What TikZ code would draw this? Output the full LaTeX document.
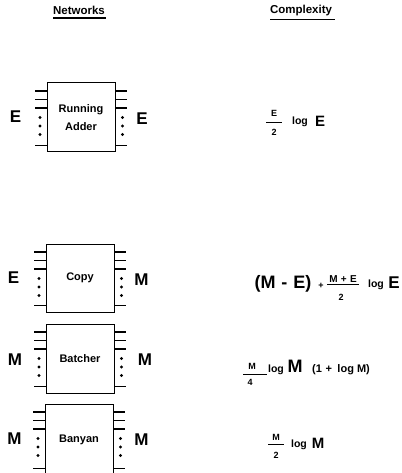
\documentclass[tikz,border=0pt]{standalone}
\usepackage{fontspec}
\setmainfont{Liberation Sans}
\begin{document}
\begin{tikzpicture}[x=1pt,y=-1pt,
  netbox/.style={draw, line width=1pt, minimum width=68pt, minimum height=69pt, inner sep=0pt, align=center, font=\bfseries\fontsize{11}{18}\selectfont},
  hdr/.style={inner sep=0pt, font=\bfseries\fontsize{11.5}{13}\selectfont},
  io/.style={inner sep=0pt, font=\bfseries\fontsize{17}{17}\selectfont},
  sm/.style={inner sep=0pt, anchor=base, font=\bfseries\fontsize{9}{9}\selectfont},
  md/.style={inner sep=0pt, anchor=base, font=\bfseries\fontsize{10.5}{11}\selectfont},
  lg/.style={inner sep=0pt, anchor=base, font=\bfseries\fontsize{15}{15}\selectfont},
  xl/.style={inner sep=0pt, anchor=base, font=\bfseries\fontsize{18}{18}\selectfont},
  stub/.style={line width=1.1pt},
  fbar/.style={line width=0.9pt},
  uline/.style={line width=1.3pt}]
\useasboundingbox (0,0) rectangle (401,473);

\newcommand\stubs[1]{%
  \foreach \dd in {8.5,17,25.5}{%
    \draw[stub] (#1.north west) ++(0,\dd) -- ++(-12,0);
    \draw[stub] (#1.north east) ++(0,\dd) -- ++(11,0);}
  \draw[stub] (#1.south west) ++(0,-7) -- ++(-12,0);
  \draw[stub] (#1.south east) ++(0,-7) -- ++(11,0);
  \foreach \dd in {35,43.5,52}{%
    \fill (#1.north west) ++(-6.5,\dd) circle (1.7pt);
    \fill (#1.north east) ++(7,\dd) circle (1.7pt);}}

% headers
\node[hdr] (hnet) at (79,10) {Networks};
\node[hdr] (hcx) at (301,11) {Complexity};
\draw[uline] (53,18) -- (106,18);
\draw[uline] (270,19.5) -- (335,19.5);

% boxes
\node[netbox] (ra) at (81,117.5) {Running\\Adder};
\node[netbox, minimum height=68pt] (cp) at (80,278) {Copy};
\node[netbox] (bt) at (80,358.5) {Batcher};
\node[netbox, minimum height=71pt] (bn) at (79,439.5) {Banyan};
\stubs{ra}\stubs{cp}\stubs{bt}\stubs{bn}

% in/out labels
\node[io] (raI) at (15.5,117) {E};
\node[io] (raO) at (142,119) {E};
\node[io] (cpI) at (13.5,278) {E};
\node[io] (cpO) at (141.5,280) {M};
\node[io] (btI) at (15,360) {M};
\node[io] (btO) at (145,360) {M};
\node[io] (bnI) at (14.5,439) {M};
\node[io] (bnO) at (141.5,440) {M};

% formula 1
\node[sm] (f1n) at (274,117) {E};
\draw[fbar] (266,122.5) -- (282,122.5);
\node[sm] (f1d) at (274,136) {2};
\node[md] (f1l) at (300,125) {log};
\node[lg] (f1e) at (320,126.5) {E};

% formula 2
\node[xl] (f2a) at (283,288) {(M\,\,-\,\,E)};
\node[sm] (f2p) at (321,288) {+};
\node[sm, font=\bfseries\fontsize{10}{10}\selectfont] (f2n) at (343,282) {M\,\,+\,\,E};
\draw[fbar] (327,284.5) -- (359,284.5);
\node[sm] (f2d) at (341,300) {2};
\node[md] (f2l) at (376,287) {log};
\node[io, anchor=base] (f2e) at (394,288) {E};

% formula 3
\node[sm] (f3n) at (252,369) {M};
\draw[fbar] (243,374.5) -- (267,374.5);
\node[sm] (f3d) at (250,385) {4};
\node[md] (f3l) at (276,372) {log};
\node[xl] (f3m) at (295,372) {M};
\node[md, font=\bfseries\fontsize{11}{11}\selectfont] (f3r) at (341,372) {(1\,\,+\,\,\,log M)};

% formula 4
\node[sm] (f4n) at (276,440) {M};
\draw[fbar] (268,444) -- (284,444);
\node[sm] (f4d) at (276,458) {2};
\node[md] (f4l) at (299,447) {log};
\node[lg] (f4m) at (318,448) {M};
\end{tikzpicture}
\end{document}
